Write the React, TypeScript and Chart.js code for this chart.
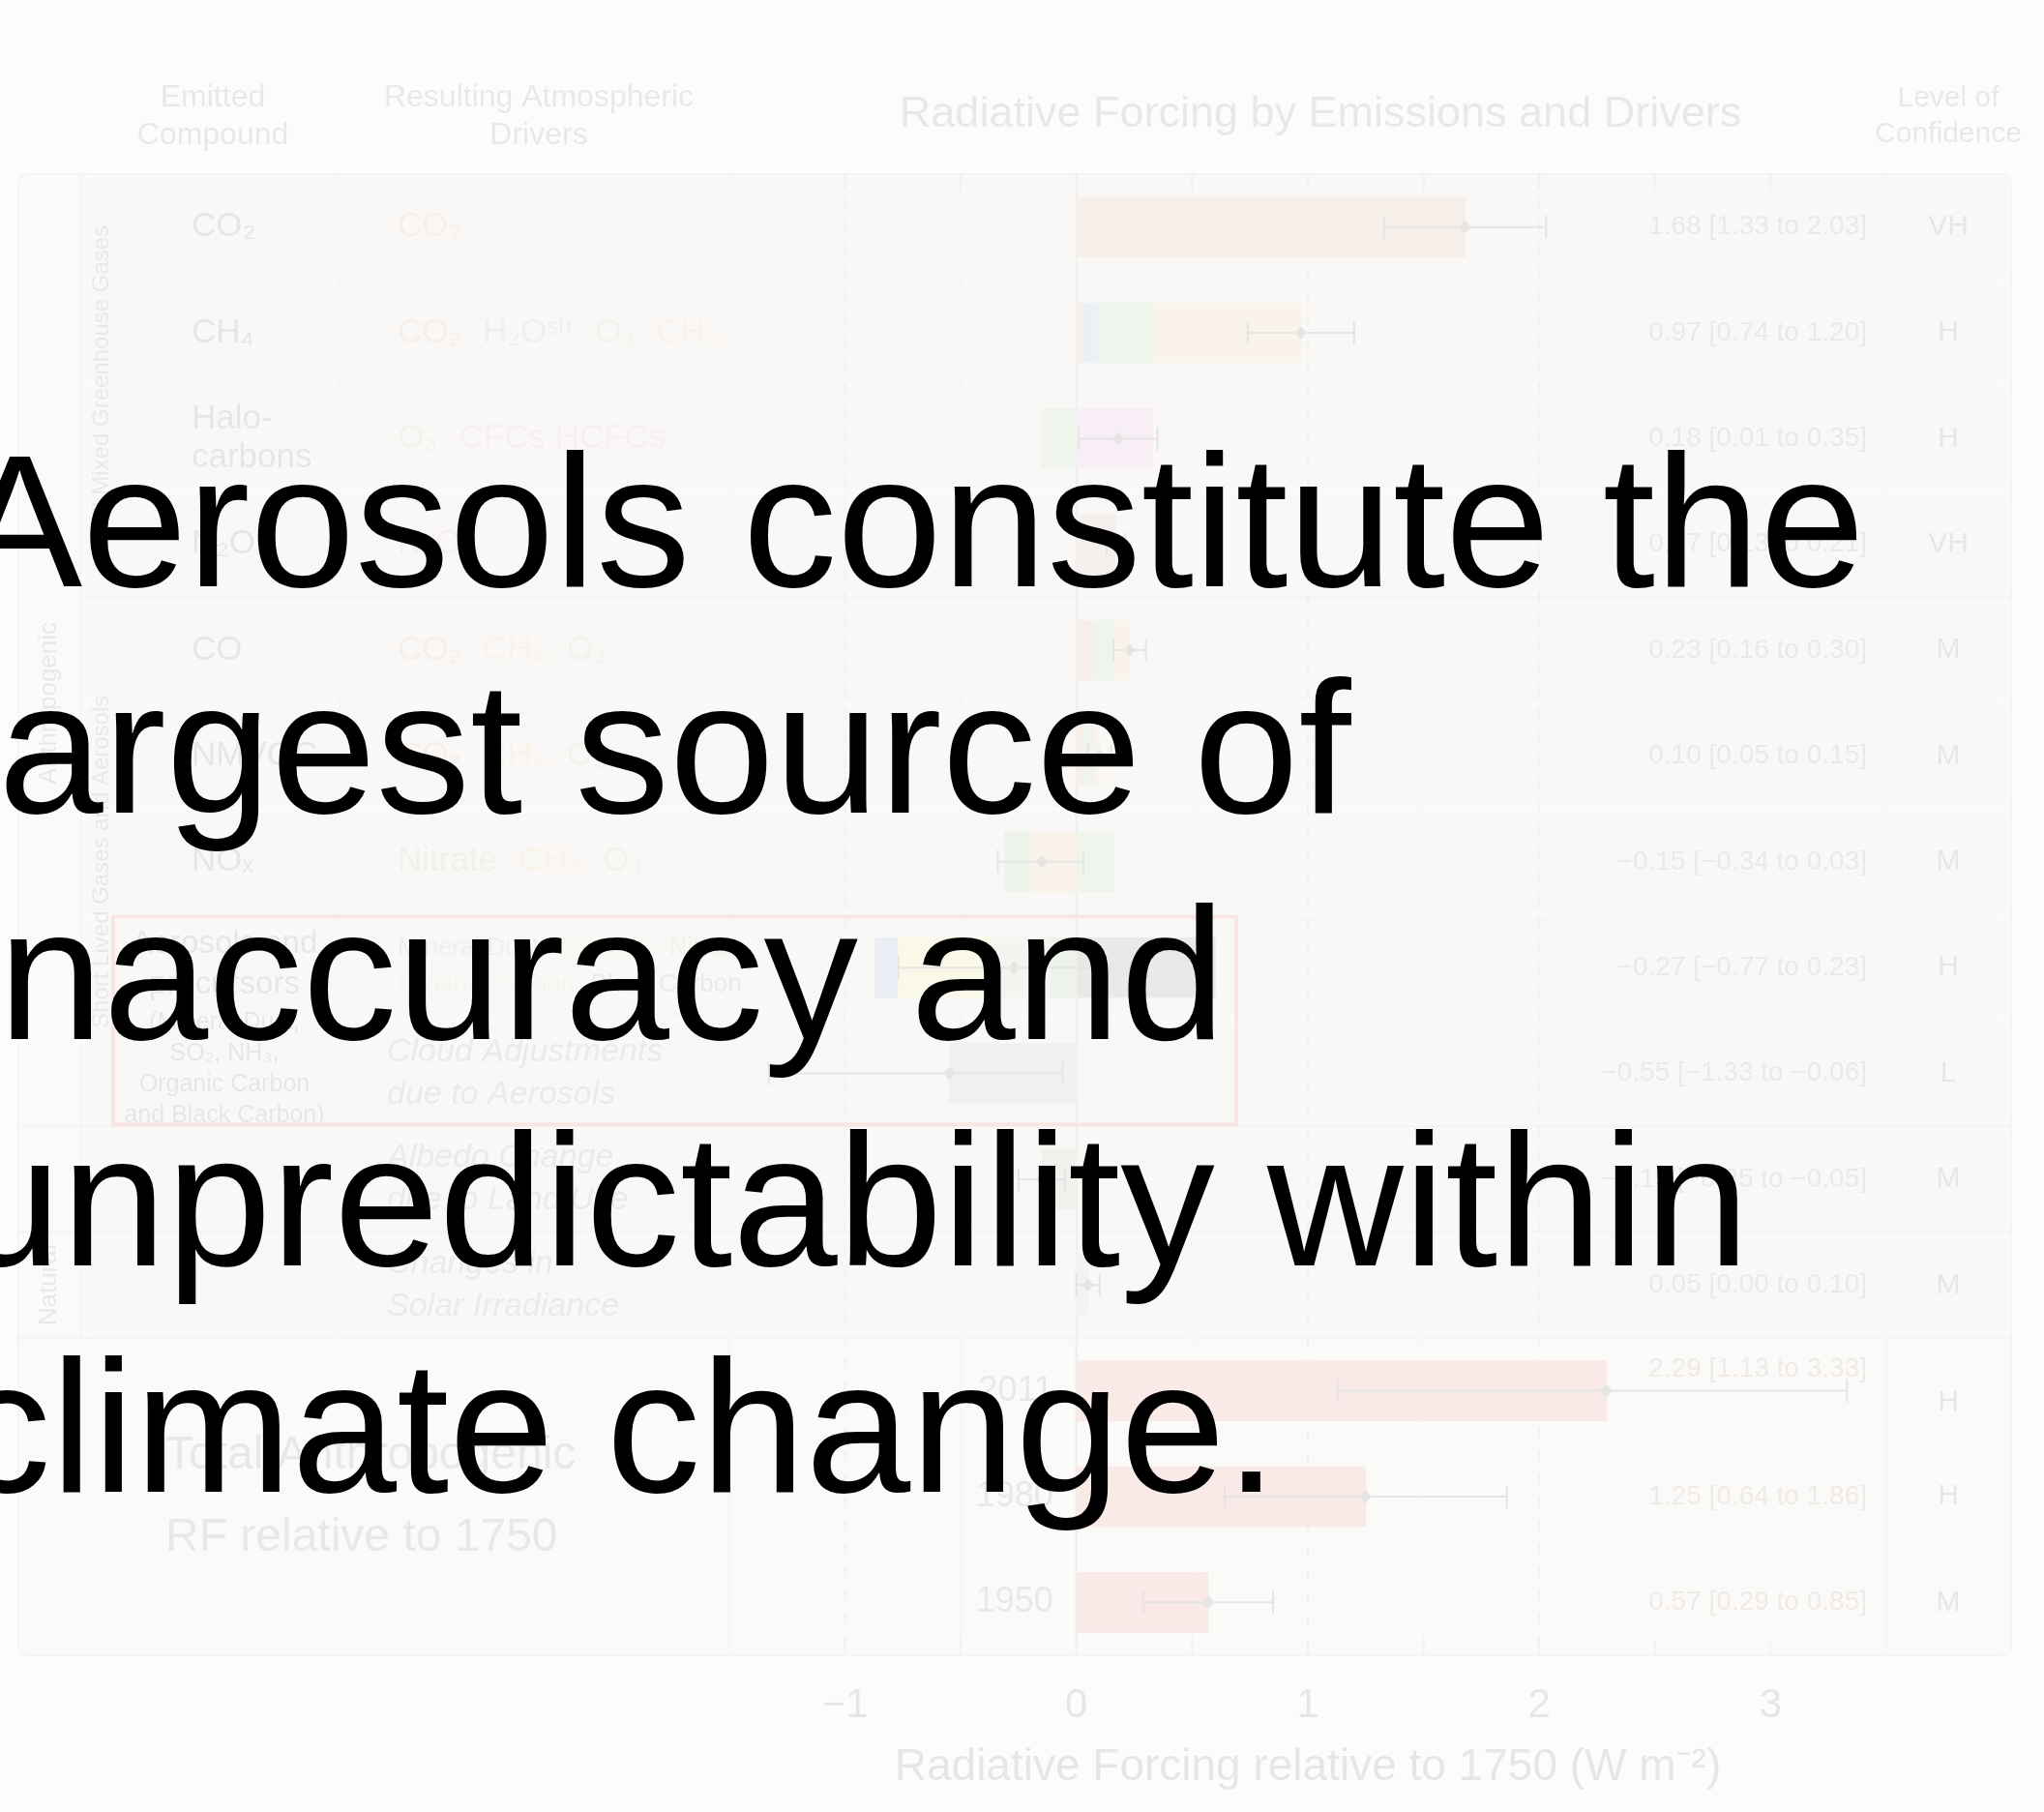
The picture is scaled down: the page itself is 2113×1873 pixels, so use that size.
import React, { useEffect, useRef } from "react";
import { Chart, registerables } from "chart.js";

Chart.register(...registerables);

// ---------------- data ----------------
const rowKeys = [
  "CO2", "CH4", "Halocarbons", "N2O", "CO", "NMVOC", "NOx",
  "Aerosols", "CloudAdjustments", "AlbedoLandUse", "SolarIrradiance",
  "2011", "1980", "1950",
];

const bestEstimate = [1.68, 0.97, 0.18, 0.17, 0.23, 0.10, -0.15, -0.27, -0.55, -0.15, 0.05, 2.29, 1.25, 0.57];
const lowerBound = [1.33, 0.74, 0.01, 0.13, 0.16, 0.05, -0.34, -0.77, -1.33, -0.25, 0.00, 1.13, 0.64, 0.29];
const upperBound = [2.03, 1.20, 0.35, 0.21, 0.30, 0.15, 0.03, 0.23, -0.06, -0.05, 0.10, 3.33, 1.86, 0.85];
const confidenceLevel = ["VH", "H", "H", "VH", "M", "M", "M", "H", "L", "M", "M", "H", "H", "M"];

// stacked components per row (null = not present)
const co2Part = [1.68, 0.02, null, null, 0.07, 0.03, null, null, null, null, null, null, null, null];
const h2oStratPart = [null, 0.07, null, null, null, null, null, null, null, null, null, null, null, null];
const ozonePart = [null, 0.24, -0.15, null, 0.09, 0.05, 0.16, null, null, null, null, null, null, null];
const methanePart = [null, 0.64, null, null, 0.07, 0.02, -0.20, null, null, null, null, null, null, null];
const halocarbonPart = [null, null, 0.33, null, null, null, null, null, null, null, null, null, null, null];
const n2oPart = [null, null, null, 0.17, null, null, null, null, null, null, null, null, null, null];
const nitratePart = [null, null, null, null, null, null, -0.11, -0.11, null, null, null, null, null, null];
const organicCarbonPart = [null, null, null, null, null, null, null, -0.26, null, null, null, null, null, null];
const sulphatePart = [null, null, null, null, null, null, null, -0.40, null, null, null, null, null, null];
const mineralDustPart = [null, null, null, null, null, null, null, -0.10, null, null, null, null, null, null];
const blackCarbonPart = [null, null, null, null, null, null, null, 0.60, null, null, null, null, null, null];
const cloudPart = [null, null, null, null, null, null, null, null, -0.55, null, null, null, null, null];
const albedoPart = [null, null, null, null, null, null, null, null, null, -0.15, null, null, null, null];
const solarPart = [null, null, null, null, null, null, null, null, null, null, 0.05, null, null, null];
const totalPart = [null, null, null, null, null, null, null, null, null, null, null, 2.29, 1.25, 0.57];

const componentNames = [
  "CO₂", "H₂Oˢᵗʳ", "O₃", "CH₄", "CFCs HCFCs", "N₂O", "Nitrate", "Organic Carbon",
  "Sulphate", "Mineral Dust", "Black Carbon", "Cloud Adjustments", "Albedo Change",
  "Solar Irradiance", "Total Anthropogenic",
];
const componentValues = [
  co2Part, h2oStratPart, ozonePart, methanePart, halocarbonPart, n2oPart, nitratePart,
  organicCarbonPart, sulphatePart, mineralDustPart, blackCarbonPart, cloudPart,
  albedoPart, solarPart, totalPart,
];
const componentColors = [
  "#c87860", "#6a8fd0", "#86b486", "#f0a860", "#d080d8", "#c09090", "#70b070",
  "#b4b4a4", "#e8d860", "#6080d0", "#505050", "#909090", "#a09080", "#b0b0b0", "#e04848",
];

const compoundLabels = [
  ["CO₂"], ["CH₄"], ["Halo-", "carbons"], ["N₂O"], ["CO"], ["NMVOC"], ["NOₓ"],
  [], [], [], [], [], [], [],
];
const aerosolCompoundTitle = ["Aerosols and", "precursors"];
const aerosolCompoundDetail = ["(Mineral Dust,", "SO₂, NH₃,", "Organic Carbon", "and Black Carbon)"];

const driverWords = [
  ["CO₂"], ["CO₂", "H₂Oˢᵗʳ", "O₃", "CH₄"], ["O₃", "CFCs HCFCs"], ["N₂O"],
  ["CO₂", "CH₄", "O₃"], ["CO₂", "CH₄", "O₃"], ["Nitrate", "CH₄", "O₃"],
];
const aerosolDriverLines = [["Mineral Dust", "Sulphate", "Nitrate"], ["Organic Carbon", "Black Carbon"]];
const italicDriverLines = [
  ["Cloud Adjustments", "due to Aerosols"],
  ["Albedo Change", "due to Land Use"],
  ["Changes in", "Solar Irradiance"],
];
const yearLabels = ["2011", "1980", "1950"];
const totalLabelLines = ["Total Anthropogenic", "RF relative to 1750"];

const headerCompound = ["Emitted", "Compound"];
const headerDrivers = ["Resulting Atmospheric", "Drivers"];
const headerTitle = "Radiative Forcing by Emissions and Drivers";
const headerConfidence = ["Level of", "Confidence"];
const axisTitle = "Radiative Forcing relative to 1750 (W m⁻²)";
const groupLabels = ["Anthropogenic", "Natural", "Well Mixed Greenhouse Gases", "Short Lived Gases and Aerosols"];

const overlayLines = [
  "Aerosols constitute the",
  "largest source of",
  "inaccuracy and",
  "unpredictability within",
  "climate change.",
];

// ---------------- helpers ----------------
const FONT = '"Liberation Sans", Arial, Helvetica, sans-serif';
const fmt = (v: number) => (v < 0 ? "−" : "") + Math.abs(v).toFixed(2);

function txt(ctx: any, s: string, x: number, y: number, size: number, color: string, align: string = "left", style: string = "") {
  ctx.save();
  ctx.font = `${style} ${size}px ${FONT}`;
  ctx.fillStyle = color;
  ctx.textAlign = align;
  ctx.textBaseline = "middle";
  ctx.fillText(s, x, y);
  ctx.restore();
}

function rot(ctx: any, s: string, x: number, y: number, size: number, color: string) {
  ctx.save();
  ctx.translate(x, y);
  ctx.rotate(-Math.PI / 2);
  ctx.font = `${size}px ${FONT}`;
  ctx.fillStyle = color;
  ctx.textAlign = "center";
  ctx.textBaseline = "middle";
  ctx.fillText(s, 0, 0);
  ctx.restore();
}

const colorOf = (name: string) => {
  const i = componentNames.indexOf(name);
  return i >= 0 ? componentColors[i] : "#333";
};

const tablePlugin = {
  id: "forcingTable",
  beforeDatasetsDraw(chart: any) {
    const { ctx, chartArea: a } = chart;
    const xs = chart.scales.x;
    const ys = chart.scales.y;
    const n = rowKeys.length;
    const rh = (a.bottom - a.top) / n;
    const L = 19, R = 2079, catR = 84, compR = 351;
    const top = (i: number) => ys.getPixelForValue(i) - rh / 2;

    ctx.save();
    ctx.fillStyle = "#ededed";
    ctx.beginPath();
    ctx.roundRect(L, a.top, R - L, a.bottom - a.top, 10);
    ctx.fill();
    for (let i = 0; i < n; i++) {
      const t = top(i);
      if (i <= 10) {
        ctx.fillStyle = "#f1dedb";
        ctx.beginPath();
        ctx.roundRect(catR + 4, t + 3, R - catR - 8, rh - 6, 8);
        ctx.fill();
      }
    }
    ctx.fillStyle = "#f2f2f2";
    ctx.beginPath();
    ctx.roundRect(L + 4, top(11) + 4, R - L - 8, a.bottom - top(11) - 8, 8);
    ctx.fill();

    ctx.strokeStyle = "#c4c4c4";
    ctx.lineWidth = 2;
    const vline = (x: number, y0: number, y1: number) => {
      ctx.beginPath(); ctx.moveTo(x, y0); ctx.lineTo(x, y1); ctx.stroke();
    };
    vline(catR, a.top, top(11));
    vline(compR, a.top, top(11));
    vline(a.left, a.top, a.bottom);
    vline(a.right, a.top, a.bottom);

    ctx.strokeStyle = "#bdbdbd";
    ctx.lineWidth = 3;
    [4, 9, 10, 11].forEach((i) => {
      ctx.beginPath(); ctx.moveTo(i === 4 ? catR : L, top(i)); ctx.lineTo(R, top(i)); ctx.stroke();
    });
    ctx.lineWidth = 2;
    ctx.beginPath();
    ctx.roundRect(L, a.top, R - L, a.bottom - a.top, 10);
    ctx.stroke();

    for (let v = -1; v <= 2.001; v += 0.5) {
      const x = xs.getPixelForValue(v);
      const integer = Math.abs(v - Math.round(v)) < 1e-6;
      ctx.strokeStyle = v === 0 ? "#8a8a8a" : integer ? "#9a9a9a" : "#c8c8c8";
      ctx.lineWidth = v === 0 ? 2.5 : 2;
      ctx.setLineDash(integer && v !== 0 ? [14, 10] : []);
      vline(x, a.top, a.bottom);
    }
    ctx.setLineDash([]);
    ctx.strokeStyle = "#9a9a9a";
    ctx.lineWidth = 2;
    for (let v = -1; v <= 3.001; v += 0.5) {
      const x = xs.getPixelForValue(v);
      vline(x, a.bottom - 16, a.bottom);
      vline(x, a.top, a.top + 16);
    }
    ctx.restore();
  },
  afterDatasetsDraw(chart: any) {
    const { ctx, chartArea: a } = chart;
    const xs = chart.scales.x;
    const ys = chart.scales.y;
    const n = rowKeys.length;
    const rh = (a.bottom - a.top) / n;
    const top = (i: number) => ys.getPixelForValue(i) - rh / 2;

    ctx.save();
    ctx.strokeStyle = "#222";
    ctx.fillStyle = "#222";
    ctx.lineWidth = 2;
    for (let i = 0; i < n; i++) {
      const y = ys.getPixelForValue(i);
      const x0 = xs.getPixelForValue(lowerBound[i]);
      const x1 = xs.getPixelForValue(upperBound[i]);
      const xm = xs.getPixelForValue(bestEstimate[i]);
      ctx.beginPath(); ctx.moveTo(x0, y); ctx.lineTo(x1, y); ctx.stroke();
      ctx.beginPath(); ctx.moveTo(x0, y - 12); ctx.lineTo(x0, y + 12); ctx.stroke();
      ctx.beginPath(); ctx.moveTo(x1, y - 12); ctx.lineTo(x1, y + 12); ctx.stroke();
      ctx.beginPath();
      ctx.moveTo(xm, y - 7); ctx.lineTo(xm + 6, y); ctx.lineTo(xm, y + 7); ctx.lineTo(xm - 6, y);
      ctx.closePath(); ctx.fill();
    }
    ctx.restore();

    for (let i = 0; i < n; i++) {
      const y = ys.getPixelForValue(i);
      const label = `${fmt(bestEstimate[i])} [${fmt(lowerBound[i])} to ${fmt(upperBound[i])}]`;
      const ny = i === 11 ? y - 22 : y;
      txt(ctx, label, 1930, ny, 28, i >= 11 ? "#a04040" : "#5a4848", "right");
      txt(ctx, confidenceLevel[i], 2014, i === 11 ? y + 12 : y, 30, "#333", "center");
    }

    for (let i = 0; i <= 6; i++) {
      const y = ys.getPixelForValue(i);
      const lines = compoundLabels[i];
      lines.forEach((s, k) => txt(ctx, s, 198, y + (k - (lines.length - 1) / 2) * 40, 35, "#333"));
    }
    const aTop = top(7);
    txt(ctx, aerosolCompoundTitle[0], 232, aTop + 30, 33, "#333", "center");
    txt(ctx, aerosolCompoundTitle[1], 232, aTop + 72, 33, "#333", "center");
    aerosolCompoundDetail.forEach((s, k) => txt(ctx, s, 232, aTop + 112 + k * 32, 25, "#333", "center"));

    for (let i = 0; i <= 6; i++) {
      const y = ys.getPixelForValue(i);
      let x = 411;
      ctx.save();
      ctx.font = `35px ${FONT}`;
      driverWords[i].forEach((w) => {
        txt(ctx, w, x, y, 35, colorOf(w));
        x += ctx.measureText(w).width + 22;
      });
      ctx.restore();
    }
    {
      const y7 = ys.getPixelForValue(7);
      aerosolDriverLines.forEach((line, k) => {
        let x = 411;
        ctx.save();
        ctx.font = `26px ${FONT}`;
        line.forEach((w) => {
          txt(ctx, w, x, y7 + (k === 0 ? -20 : 18), 26, colorOf(w));
          x += ctx.measureText(w).width + 16;
        });
        ctx.restore();
      });
    }
    italicDriverLines.forEach((lines, k) => {
      const y = ys.getPixelForValue(8 + k);
      txt(ctx, lines[0], 400, y - 22, 34, "#555", "left", "italic");
      txt(ctx, lines[1], 400, y + 22, 34, "#555", "left", "italic");
    });

    const mid = (i0: number, i1: number) => (top(i0) + top(i1 + 1)) / 2;
    rot(ctx, groupLabels[0], 51, mid(0, 9), 26, "#444");
    rot(ctx, groupLabels[1], 51, mid(10, 10), 26, "#444");
    rot(ctx, groupLabels[2], 105, mid(0, 3), 24, "#444");
    rot(ctx, groupLabels[3], 105, mid(4, 8), 24, "#444");

    const y12 = ys.getPixelForValue(12);
    txt(ctx, totalLabelLines[0], 171, y12 - 42, 48, "#444");
    txt(ctx, totalLabelLines[1], 171, y12 + 43, 48, "#444");
    yearLabels.forEach((s, k) => {
      txt(ctx, s, xs.getPixelForValue(0) - 24, ys.getPixelForValue(11 + k), 36, "#444", "right");
    });

    txt(ctx, headerCompound[0], 220, 101, 32, "#444", "center");
    txt(ctx, headerCompound[1], 220, 140, 32, "#444", "center");
    txt(ctx, headerDrivers[0], 557, 101, 32, "#444", "center");
    txt(ctx, headerDrivers[1], 557, 140, 32, "#444", "center");
    txt(ctx, headerTitle, 1365, 119, 45, "#444", "center");
    txt(ctx, headerConfidence[0], 2014, 102, 30, "#444", "center");
    txt(ctx, headerConfidence[1], 2014, 139, 30, "#444", "center");

    ctx.save();
    ctx.strokeStyle = "#e03030";
    ctx.lineWidth = 4;
    ctx.strokeRect(117, top(7) + 2, 1278 - 117, top(9) - top(7) - 4);
    ctx.restore();
  },
};

export default function App() {
  const canvasRef = useRef<HTMLCanvasElement | null>(null);

  useEffect(() => {
    const canvas = canvasRef.current;
    if (!canvas) return;
    const chart = new Chart(canvas, {
      type: "bar",
      data: {
        labels: rowKeys,
        datasets: componentNames.map((name, k) => ({
          label: name,
          data: componentValues[k],
          backgroundColor: componentColors[k],
          borderWidth: 0,
          barThickness: 62,
          stack: "forcing",
        })),
      },
      options: {
        indexAxis: "y",
        animation: false,
        responsive: false,
        devicePixelRatio: 1,
        layout: { padding: { left: 754, right: 163, top: 180, bottom: 12 } },
        plugins: { legend: { display: false }, tooltip: { enabled: false } },
        scales: {
          x: {
            type: "linear",
            min: -1.5,
            max: 3.5,
            stacked: true,
            grid: { display: false, drawTicks: false },
            border: { display: false },
            ticks: {
              stepSize: 0.5,
              padding: 27,
              color: "#333",
              font: { size: 42, family: FONT },
              callback: (v: any) => {
                const num = Number(v);
                if (num < -1.01 || num > 3.01) return "";
                if (Math.abs(num - Math.round(num)) > 1e-6) return "";
                return num < 0 ? "−" + Math.abs(num) : String(num);
              },
            },
            title: {
              display: true,
              text: axisTitle,
              color: "#333",
              font: { size: 46, family: FONT },
              padding: { top: 0, bottom: 6 },
            },
            afterFit: (scale: any) => {
              scale.height = 150;
            },
          },
          y: { type: "category", display: false, stacked: true },
        },
      },
      plugins: [tablePlugin],
    } as any);
    return () => chart.destroy();
  }, []);

  return (
    <div
      style={{
        position: "absolute",
        left: 0,
        top: 0,
        width: 2113,
        height: 1873,
        overflow: "hidden",
        background: "#fcfcfa",
      }}
    >
      <canvas
        ref={canvasRef}
        width={2113}
        height={1873}
        style={{ position: "absolute", left: 0, top: 0, width: 2113, height: 1873, opacity: 0.105 }}
      />
      <div
        style={{
          position: "absolute",
          left: -45,
          top: 421,
          fontFamily: FONT,
          fontSize: 195,
          lineHeight: "234px",
          color: "#000",
          whiteSpace: "pre",
        }}
      >
        {overlayLines.join("\n")}
      </div>
    </div>
  );
}
